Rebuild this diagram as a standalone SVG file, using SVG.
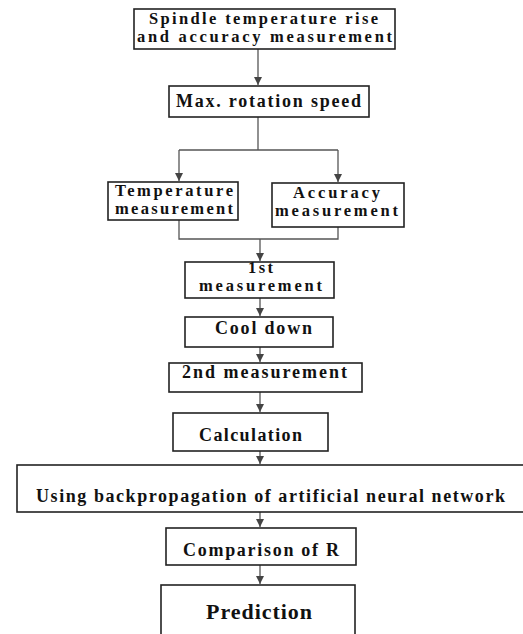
<svg xmlns="http://www.w3.org/2000/svg" width="523" height="634" viewBox="0 0 523 634">
<style>
.box{fill:#fff;stroke:#222;stroke-width:1.6}
.t{font-family:"Liberation Serif","Times New Roman",serif;font-weight:bold;font-size:18px;fill:#111;text-anchor:start}
.s{font-size:16.5px}
.big{font-size:22px}
.c{fill:none;stroke:#555;stroke-width:1.3}
</style>
<defs>
<marker id="ah" viewBox="0 0 10 10" refX="10" refY="5" markerWidth="8" markerHeight="8" markerUnits="userSpaceOnUse" orient="auto">
<path d="M0,0 L10,5 L0,10 z" fill="#444"/>
</marker>
</defs>
<rect width="523" height="634" fill="#fff"/>
<g id="connectors">
<path class="c" d="M258,49 V85" marker-end="url(#ah)"/>
<path class="c" d="M258,117 V150"/>
<path class="c" d="M179,150 H338"/>
<path class="c" d="M179,150 V181" marker-end="url(#ah)"/>
<path class="c" d="M338,150 V182" marker-end="url(#ah)"/>
<path class="c" d="M179,220 V239 H338 V227"/>
<path class="c" d="M260,239 V261" marker-end="url(#ah)"/>
<path class="c" d="M260,298 V316" marker-end="url(#ah)"/>
<path class="c" d="M260,347 V362" marker-end="url(#ah)"/>
<path class="c" d="M260,392 V412" marker-end="url(#ah)"/>
<path class="c" d="M260,451 V464" marker-end="url(#ah)"/>
<path class="c" d="M260,512 V527" marker-end="url(#ah)"/>
<path class="c" d="M260,565 V584" marker-end="url(#ah)"/>
</g>
<g id="n1"><rect class="box" x="134" y="9" width="261" height="40"/>
<text class="t s" x="149" y="24" textLength="229" lengthAdjust="spacing">Spindle temperature rise</text>
<text class="t s" x="137" y="42" textLength="255" lengthAdjust="spacing">and accuracy measurement</text></g>
<g id="n2"><rect class="box" x="169" y="86" width="200" height="31"/>
<text class="t" x="176" y="107" textLength="185" lengthAdjust="spacing">Max. rotation speed</text></g>
<g id="n3"><rect class="box" x="108" y="182" width="130" height="38"/>
<text class="t s" x="115" y="196" textLength="118" lengthAdjust="spacing">Temperature</text>
<text class="t s" x="115" y="214" textLength="118" lengthAdjust="spacing">measurement</text></g>
<g id="n4"><rect class="box" x="272" y="183" width="132" height="44"/>
<text class="t s" x="293" y="198" textLength="87" lengthAdjust="spacing">Accuracy</text>
<text class="t s" x="275" y="216" textLength="123" lengthAdjust="spacing">measurement</text></g>
<g id="n5"><rect class="box" x="185" y="262" width="149" height="36"/>
<text class="t s" x="248" y="273" textLength="25" lengthAdjust="spacing">1st</text>
<text class="t s" x="199" y="291" textLength="123" lengthAdjust="spacing">measurement</text></g>
<g id="n6"><rect class="box" x="185" y="317" width="148" height="30"/>
<text class="t" x="215" y="334" textLength="97" lengthAdjust="spacing">Cool down</text></g>
<g id="n7"><rect class="box" x="169" y="363" width="193" height="29"/>
<text class="t" x="182" y="378" textLength="165" lengthAdjust="spacing">2nd measurement</text></g>
<g id="n8"><rect class="box" x="173" y="413" width="155" height="38"/>
<text class="t" x="199" y="441" textLength="103" lengthAdjust="spacing">Calculation</text></g>
<g id="n9"><rect class="box" x="17" y="465" width="510" height="47"/>
<text class="t" x="36" y="502" textLength="469" lengthAdjust="spacing">Using backpropagation of artificial neural network</text></g>
<g id="n10"><rect class="box" x="166" y="528" width="190" height="37"/>
<text class="t" x="183" y="556" textLength="156" lengthAdjust="spacing">Comparison of R</text></g>
<g id="n11"><rect class="box" x="161" y="585" width="194" height="55"/>
<text class="t big" x="206" y="619" textLength="106" lengthAdjust="spacing">Prediction</text></g>
</svg>
